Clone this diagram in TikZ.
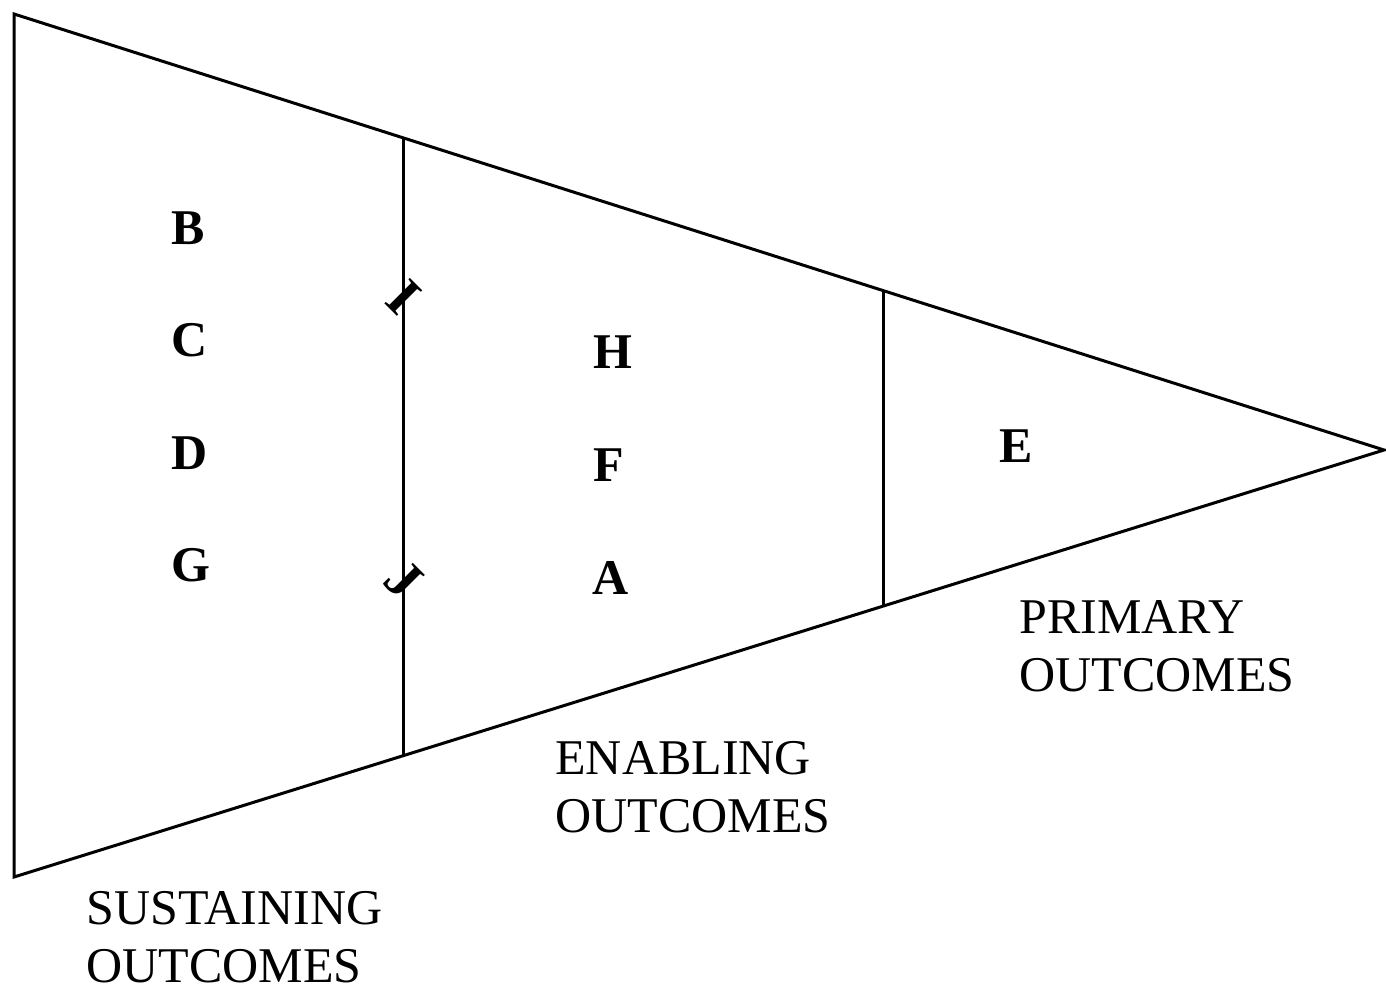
\documentclass[tikz,border=0pt]{standalone}
\usepackage{fontspec}
\setmainfont{Liberation Serif}
\begin{document}
\begin{tikzpicture}[x=0.5pt,y=-0.5pt,
  edge/.style={line width=1.5pt,line join=miter},
  letter/.style={font=\fontsize{25}{29}\selectfont\bfseries,inner sep=0pt},
  caption/.style={font=\fontsize{25}{29}\selectfont,align=left,inner sep=0pt,anchor=base west}]
\useasboundingbox (0,0) rectangle (1386,988);
\coordinate (tl) at (14,14);
\coordinate (bl) at (14,877);
\coordinate (tip) at (1384,450);
\coordinate (v1t) at (403,137.8);
\coordinate (v1b) at (403,756);
\coordinate (v2t) at (883,290.5);
\coordinate (v2b) at (883,606.2);
\draw[edge] (tl) -- (tip) -- (bl) -- cycle;
\draw[edge] (v1t) -- (v1b);
\draw[edge] (v2t) -- (v2b);
\node[letter] (B) at (188,228) {B};
\node[letter] (C) at (190,340) {C};
\node[letter] (D) at (190,453) {D};
\node[letter] (G) at (191,565) {G};
\node[letter] (H) at (613,352) {H};
\node[letter] (F) at (609,465) {F};
\node[letter] (A) at (611,578) {A};
\node[letter] (E) at (1016,446) {E};
\node[letter,rotate=-45,scale=1.1] (I) at (404,297) {I};
\node[letter,rotate=-45,scale=1.1] (J) at (404,580) {J};
\node[caption] (sus) at (86,982) {SUSTAINING\\OUTCOMES};
\node[caption] (ena) at (555,832) {ENABLING\\OUTCOMES};
\node[caption] (pri) at (1019,691) {PRIMARY\\OUTCOMES};
\end{tikzpicture}
\end{document}
